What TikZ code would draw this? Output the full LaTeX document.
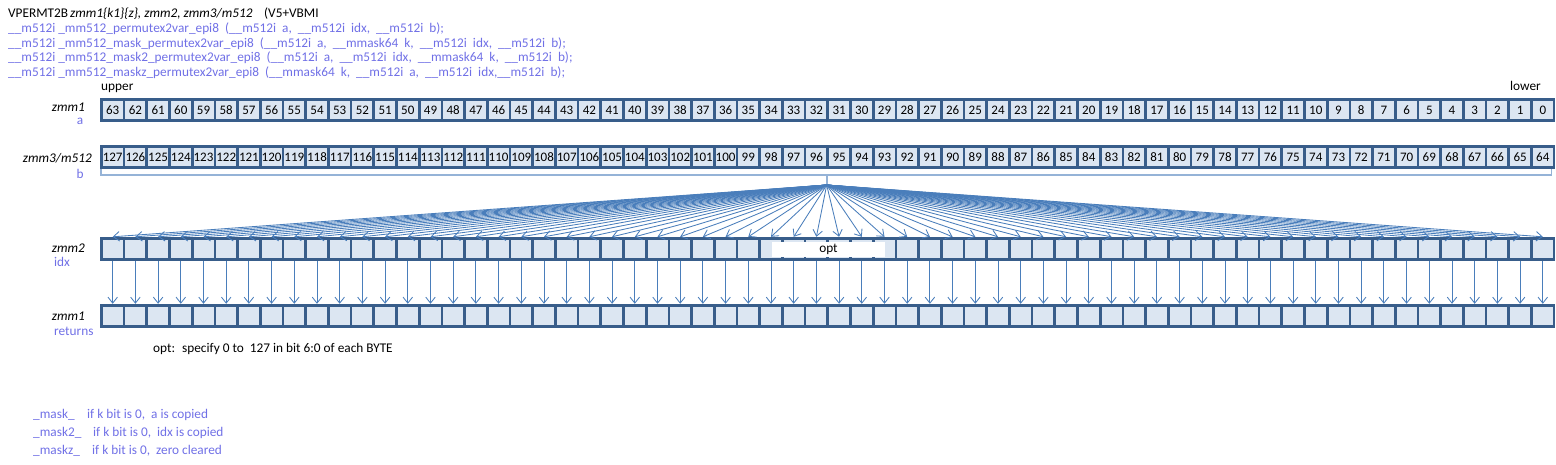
\documentclass[tikz,border=0pt]{standalone}
\usepackage{fontspec}
\setmainfont{Carlito}
\usetikzlibrary{arrows.meta}
\definecolor{regdark}{RGB}{56,93,138}
\definecolor{cellfill}{RGB}{220,230,242}
\definecolor{arr}{RGB}{74,126,187}
\definecolor{brk}{RGB}{149,179,215}
\definecolor{fnc}{RGB}{112,112,230}
\begin{document}
\begin{tikzpicture}[x=1pt,y=-1pt,
  reg/.style={draw=none,fill=regdark,minimum width=1455pt,minimum height=24pt,inner sep=0pt,anchor=west},
  cell/.style={fill=cellfill,minimum width=20pt,minimum height=18pt,inner sep=0pt,font=\fontsize{13}{13}\selectfont},
  arw/.style={draw=arr,line width=0.85pt,-{Straight Barb[length=6pt,width=9.5pt]}},
  txt/.style={inner sep=0pt,anchor=base west,font=\fontsize{13.3}{16}\selectfont},
  txte/.style={txt,anchor=base east},
  fn/.style={txt,text=fnc},
]
\useasboundingbox (0,0) rectangle (1556,465);
% header
\node[txt] (h1a) at (8,18) {VPERMT2B};
\node[txt] (h1b) at (70,18) {\itshape zmm1\{k1\}\{z\}, zmm2, zmm3/m512};
\node[txt] (h1c) at (264,18) {(V5+VBMI};
\node[fn] (h2) at (8,32.6) {\_\_m512i \_mm512\_permutex2var\_epi8 \ (\_\_m512i \ a, \ \_\_m512i \ idx, \ \_\_m512i \ b);};
\node[fn] (h3) at (8,47.2) {\_\_m512i \_mm512\_mask\_permutex2var\_epi8 \ (\_\_m512i \ a, \ \_\_mmask64 \ k, \ \_\_m512i \ idx, \ \_\_m512i \ b);};
\node[fn] (h4) at (8,61.8) {\_\_m512i \_mm512\_mask2\_permutex2var\_epi8 \ (\_\_m512i \ a, \ \_\_m512i \ idx, \ \_\_mmask64 \ k, \ \_\_m512i \ b);};
\node[fn] (h5) at (8,76.4) {\_\_m512i \_mm512\_maskz\_permutex2var\_epi8 \ (\_\_mmask64 \ k, \ \_\_m512i \ a, \ \_\_m512i \ idx,\_\_m512i \ b);};
\node[txt] (upper) at (101,91) {upper};
\node[txte] (lower) at (1541,91) {lower};
% labels
\node[txte,font=\fontsize{13.3}{16}\itshape] (lA) at (85,112) {zmm1};
\node[fn,anchor=base] (lAa) at (80,125) {a};
\node[txte,font=\fontsize{13.3}{16}\itshape] (lB) at (92,163) {zmm3/m512};
\node[fn,anchor=base] (lBb) at (80,179) {b};
\node[txte,font=\fontsize{13.3}{16}\itshape] (lI) at (85,253) {zmm2};
\node[fn] (lIi) at (54,266) {idx};
\node[txte,font=\fontsize{13.3}{16}\itshape] (lR) at (85,320) {zmm1};
\node[fn] (lRr) at (54,335) {returns};
% registers
\node[reg] (regA) at (100,110) {};
\node[reg] (regB) at (100,157) {};
\node[reg] (regI) at (100,249) {};
\node[reg] (regR) at (100,316) {};
\foreach \j in {0,...,63}{
  \pgfmathtruncatemacro\n{63-\j}
  \pgfmathtruncatemacro\m{127-\j}
  \node[cell] (a\n) at ({112.7+22.7*\j},110) {\n};
  \node[cell] (b\m) at ({112.7+22.7*\j},157) {\m};
  \node[cell] (i\n) at ({112.7+22.7*\j},249) {};
  \node[cell] (r\n) at ({112.7+22.7*\j},316) {};
}
% bracket
\draw[brk,line width=1.8pt] ([xshift=1pt]regB.south west) -- ++(0,6) -| ([xshift=-4pt]regB.south east);
\coordinate (brc) at (826.7,176);
\coordinate (fan) at (826.7,185);
\draw[brk,line width=1.8pt] (brc) -- (fan);
% arrows
\foreach \n in {0,...,63}{
  \draw[arw] (fan) -- ([yshift=3pt]i\n.north);
  \draw[arw] ([yshift=-3pt]i\n.south) -- ([yshift=3pt]r\n.north);
}
\node[fill=white,minimum width=113pt,minimum height=15.5pt,inner sep=0pt,font=\fontsize{13.3}{16}\selectfont] (opt) at (828.5,249.3) {opt};
% notes
\node[txt] (note) at (153,352) {opt: \ specify 0 to \ 127 in bit 6:0 of each BYTE};
\node[fn] (m1) at (33,418) {\_mask\_};
\node[fn] (m1t) at (87,418) {if k bit is 0, \ a is copied};
\node[fn] (m2) at (33,436) {\_mask2\_};
\node[fn] (m2t) at (93,436) {if k bit is 0, \ idx is copied};
\node[fn] (m3) at (33,454) {\_maskz\_};
\node[fn] (m3t) at (92,454) {if k bit is 0, \ zero cleared};
\end{tikzpicture}
\end{document}
